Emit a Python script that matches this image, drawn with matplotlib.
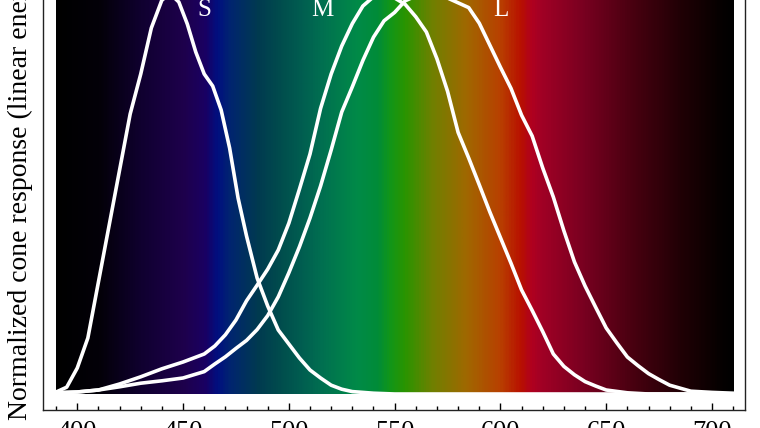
import numpy as np
import matplotlib
matplotlib.use('Agg')
import matplotlib.pyplot as plt
from matplotlib.colors import LinearSegmentedColormap

# cone response curves (nm, normalized energy)
s_nm = [390, 395, 400, 405, 410, 415, 420, 425, 430, 435, 440, 444, 448, 452,
        456, 460, 464, 468, 472, 476, 480, 485, 490, 495, 500, 505, 510, 515,
        520, 525, 530, 540, 550, 710]
s_val = [0.005, 0.017, 0.065, 0.14, 0.28, 0.42, 0.56, 0.70, 0.80, 0.915,
         0.985, 1.0, 0.98, 0.925, 0.855, 0.80, 0.77, 0.71, 0.615, 0.49,
         0.395, 0.29, 0.22, 0.16, 0.125, 0.09, 0.06, 0.04, 0.022, 0.012,
         0.006, 0.002, 0.0, 0.0]

m_nm = [390, 400, 410, 420, 430, 440, 450, 460, 465, 470, 475, 480, 485, 490,
        495, 500, 505, 510, 515, 520, 525, 530, 535, 540, 545, 550, 555, 560,
        565, 570, 575, 580, 585, 590, 595, 600, 605, 610, 615, 620, 625, 630,
        635, 640, 645, 650, 660, 670, 710]
m_val = [0.003, 0.005, 0.01, 0.025, 0.043, 0.063, 0.08, 0.10, 0.12, 0.148,
         0.185, 0.233, 0.272, 0.312, 0.36, 0.427, 0.512, 0.60, 0.714, 0.80,
         0.87, 0.926, 0.97, 0.993, 1.0, 0.99, 0.974, 0.943, 0.905, 0.838,
         0.757, 0.654, 0.59, 0.523, 0.455, 0.391, 0.327, 0.26, 0.209, 0.156,
         0.10, 0.069, 0.048, 0.031, 0.02, 0.01, 0.003, 0.0, 0.0]

l_nm = [390, 400, 410, 420, 430, 440, 450, 460, 465, 470, 475, 480, 485, 490,
        495, 500, 505, 510, 515, 520, 525, 530, 535, 540, 545, 550, 555, 560,
        565, 570, 575, 580, 585, 590, 595, 600, 605, 610, 615, 620, 625, 630,
        635, 640, 645, 650, 655, 660, 665, 670, 675, 680, 690, 700, 710]
l_val = [0.003, 0.005, 0.01, 0.018, 0.027, 0.033, 0.04, 0.056, 0.075, 0.093,
         0.114, 0.134, 0.161, 0.196, 0.243, 0.303, 0.368, 0.44, 0.52, 0.61,
         0.705, 0.768, 0.834, 0.892, 0.933, 0.954, 0.983, 0.995, 1.0, 0.998,
         0.99, 0.978, 0.966, 0.927, 0.872, 0.817, 0.764, 0.697, 0.645, 0.565,
         0.4925, 0.408, 0.33, 0.27, 0.217, 0.165, 0.128, 0.0925, 0.071, 0.051,
         0.036, 0.022, 0.007, 0.004, 0.002]

# dimmed spectrum behind the curves
spec_nm = [390, 410, 430, 450, 460, 466, 472, 485, 496, 505, 516, 532, 542,
           548, 555, 568, 584, 600, 610, 615, 620, 640, 663, 686, 705, 710]
spec_col = ['#000000', '#030008', '#100030', '#1e004c', '#1a0062', '#000f80',
            '#002570', '#003a50', '#004d4d', '#005c50', '#007050', '#008a48',
            '#008c38', '#129618', '#2a9400', '#708000', '#a06800', '#b84000',
            '#b81000', '#b00020', '#a00025', '#780020', '#480010', '#200005',
            '#050000', '#000000']

curve_labels = ['S', 'M', 'L']
label_nm = [460, 516, 600]

Fontsize = 18
plt.rcParams['font.family'] = ['Liberation Serif', 'DejaVu Serif']

fig = plt.figure(figsize=(7.6, 4.28), dpi=100)
ax = fig.add_axes([43 / 760, 18 / 428, 702 / 760, 432 / 428])

lo, hi = spec_nm[0], spec_nm[-1]
cmap = LinearSegmentedColormap.from_list(
    'spec', [((w - lo) / (hi - lo), c) for w, c in zip(spec_nm, spec_col)])
grad = np.linspace(0, 1, 641)[np.newaxis, :]
ax.imshow(grad, cmap=cmap, aspect='auto', extent=[lo, hi, 0, 1.04],
          interpolation='bilinear', zorder=0)

for xs, ys in [(s_nm, s_val), (m_nm, m_val), (l_nm, l_val)]:
    ax.plot(xs, ys, color='white', linewidth=2.6, solid_joinstyle='round',
            zorder=2)

for txt, w in zip(curve_labels, label_nm):
    ax.text(w, 0.96, txt, color='white', fontsize=Fontsize,
            ha='center', va='center', zorder=3)

ax.set_xlim(383.8, 715.6)
ax.set_ylim(-0.04, 1.04)
ax.set_xticks(range(400, 701, 50))
ax.set_xticks(np.arange(390, 711, 10), minor=True)
ax.set_yticks([])
ax.tick_params(axis='x', which='both', direction='in', top=False,
               labelsize=19, pad=8, width=1)
ax.tick_params(axis='x', which='major', length=5)
ax.tick_params(axis='x', which='minor', length=3)
for sp in ax.spines.values():
    sp.set_linewidth(1.0)
    sp.set_color('#222222')

ax.set_ylabel('Normalized cone response (linear energy)', fontsize=20)
ax.yaxis.set_label_coords(-0.0142, 0.516)

fig.savefig('out.png', dpi=100)
